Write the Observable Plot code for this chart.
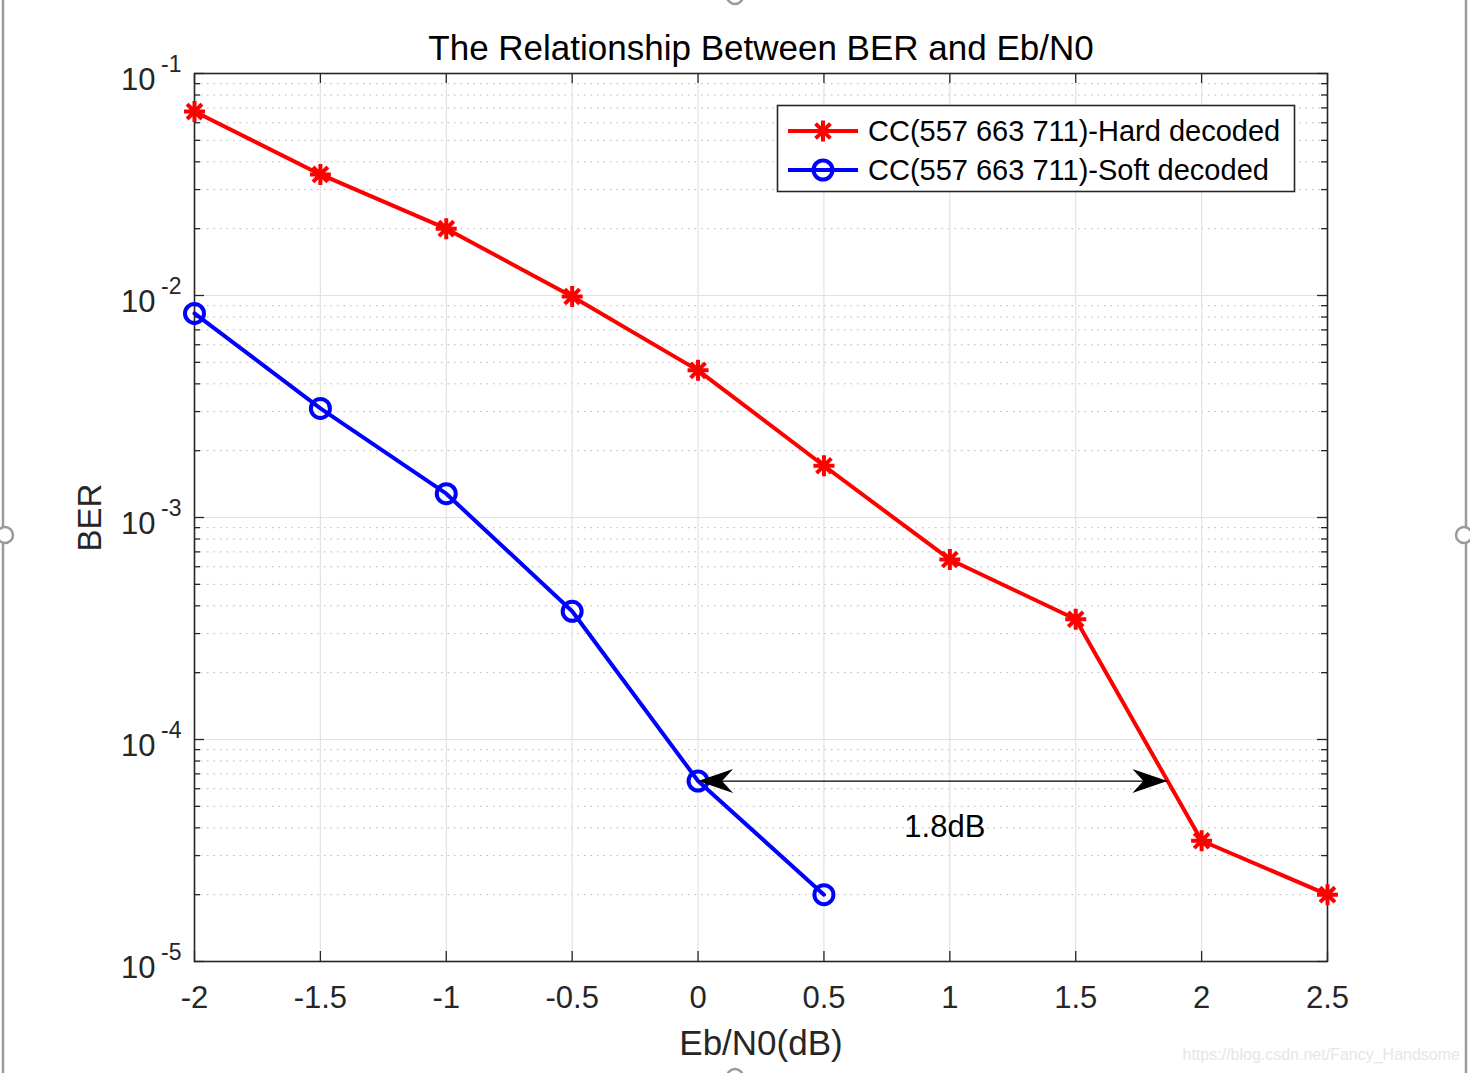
<!DOCTYPE html>
<html><head><meta charset="utf-8">
<script src="https://cdn.jsdelivr.net/npm/d3@7"></script>
<script src="https://cdn.jsdelivr.net/npm/@observablehq/plot@0.6"></script>
<style>body{margin:0;background:#fff;} svg{display:block}</style>
</head><body><div id="chart"></div>
<script>
// ---- data ----
const ebn0Hard = [-2, -1.5, -1, -0.5, 0, 0.5, 1, 1.5, 2, 2.5];
const berHard = [0.0674, 0.0351, 0.0200, 0.0099, 0.0046, 0.00171, 0.000647, 0.000348, 0.000035, 0.000020];
const ebn0Soft = [-2, -1.5, -1, -0.5, 0, 0.5];
const berSoft = [0.0083, 0.0031, 0.00128, 0.000378, 0.000065, 0.000020];
const seriesNames = ["CC(557 663 711)-Hard decoded", "CC(557 663 711)-Soft decoded"];
const xTicks = [-2, -1.5, -1, -0.5, 0, 0.5, 1, 1.5, 2, 2.5];
const yDecades = [1e-5, 1e-4, 1e-3, 1e-2, 1e-1];
const yExponents = ["-5", "-4", "-3", "-2", "-1"];
const yMinor = [1e-5, 1e-4, 1e-3, 1e-2].flatMap(d => [2,3,4,5,6,7,8,9].map(k => k * d));
const arrowX = [0, 1.864];
const arrowY = 6.5e-5;
const gapLabel = "1.8dB";
const gapLabelX = 0.98, gapLabelY = 4.05e-5;
const titleText = "The Relationship Between BER and Eb/N0";
const xLabel = "Eb/N0(dB)";
const yLabel = "BER";
const watermark = "https://blog.csdn.net/Fancy_Handsome";

const hard = ebn0Hard.map((x, i) => ({x, y: berHard[i]}));
const soft = ebn0Soft.map((x, i) => ({x, y: berSoft[i]}));
const arrowEnds = [{x: arrowX[0], y: arrowY, rot: 180}, {x: arrowX[1], y: arrowY, rot: 0}];

const FONT = "'Liberation Sans', Arial, sans-serif";
const AX = "#262626";
const W = 1470, H = 1073, ML = 194, MR = 143, MT = 73, MB = 112;
const PW = W - ML - MR, PH = H - MT - MB;

// custom symbols
const star8 = {draw(ctx, size) {
  const r = 10.5;
  ctx.moveTo(-r, 0); ctx.lineTo(r, 0);
  ctx.moveTo(0, -r); ctx.lineTo(0, r);
  const d = r * Math.SQRT1_2;
  ctx.moveTo(-d, -d); ctx.lineTo(d, d);
  ctx.moveTo(-d, d); ctx.lineTo(d, -d);
}};
const arrowHead = {draw(ctx, size) {
  ctx.moveTo(0, 0); ctx.lineTo(-35, -12); ctx.lineTo(-24, 0); ctx.lineTo(-35, 12); ctx.closePath();
}};

const plot = Plot.plot({
  width: W, height: H,
  marginLeft: ML, marginRight: MR, marginTop: MT, marginBottom: MB,
  style: {fontFamily: FONT, background: "white", color: "black"},
  x: {domain: [-2, 2.5], axis: null},
  y: {type: "log", domain: [1e-5, 1e-1], axis: null},
  marks: [
    // grids
    Plot.ruleY(yMinor, {y: d => d, stroke: "#b5b5b5", strokeWidth: 1, strokeDasharray: "1.5,5"}),
    Plot.ruleX(xTicks, {x: d => d, stroke: "#e2e2e2", strokeWidth: 1.2}),
    Plot.ruleY(yDecades, {y: d => d, stroke: "#e2e2e2", strokeWidth: 1.2}),
    // ticks (inward)
    Plot.tickX(xTicks, {x: d => d, insetTop: PH - 10, stroke: AX, strokeWidth: 1.3}),
    Plot.tickX(xTicks, {x: d => d, insetBottom: PH - 10, stroke: AX, strokeWidth: 1.3}),
    Plot.tickY(yDecades, {y: d => d, insetRight: PW - 10, stroke: AX, strokeWidth: 1.3}),
    Plot.tickY(yDecades, {y: d => d, insetLeft: PW - 10, stroke: AX, strokeWidth: 1.3}),
    Plot.tickY(yMinor, {y: d => d, insetRight: PW - 6, stroke: AX, strokeWidth: 1.3}),
    Plot.tickY(yMinor, {y: d => d, insetLeft: PW - 6, stroke: AX, strokeWidth: 1.3}),
    Plot.frame({stroke: AX, strokeWidth: 1.6}),
    // series
    Plot.line(hard, {x: "x", y: "y", stroke: "#ff0000", strokeWidth: 4}),
    Plot.dot(hard, {x: "x", y: "y", symbol: star8, r: 10, stroke: "#ff0000", strokeWidth: 4, fill: "none"}),
    Plot.line(soft, {x: "x", y: "y", stroke: "#0000ff", strokeWidth: 4}),
    Plot.dot(soft, {x: "x", y: "y", symbol: "circle", r: 9.5, stroke: "#0000ff", strokeWidth: 4, fill: "none"}),
    // annotation arrow
    Plot.line(arrowEnds, {x: "x", y: "y", stroke: "black", strokeWidth: 1.3}),
    Plot.dot(arrowEnds, {x: "x", y: "y", symbol: arrowHead, r: 10, rotate: "rot", fill: "black", stroke: "none"}),
    Plot.text([gapLabel], {x: gapLabelX, y: gapLabelY, text: d => d, fontSize: 31, fill: "black", lineAnchor: "middle"}),
    // tick labels
    Plot.text(xTicks, {x: d => d, text: d => String(d), frameAnchor: "bottom", dy: 37, lineAnchor: "middle", fontSize: 31, fill: "#262626"}),
    Plot.text(yDecades, {y: d => d, text: () => "10", frameAnchor: "left", dx: -39, dy: 7, textAnchor: "end", lineAnchor: "middle", fontSize: 31, fill: "#262626"}),
    Plot.text(yDecades, {y: d => d, text: (d, i) => yExponents[i], frameAnchor: "left", dx: -13, dy: -9, textAnchor: "end", lineAnchor: "middle", fontSize: 23, fill: "#262626"}),
    // title & labels
    Plot.text([titleText], {frameAnchor: "top", dy: -25, lineAnchor: "middle", textAnchor: "middle", fontSize: 35, fill: "black"}),
    Plot.text([xLabel], {frameAnchor: "bottom", dy: 82, lineAnchor: "middle", textAnchor: "middle", fontSize: 35, fill: "#262626"}),
    Plot.text([yLabel], {frameAnchor: "left", dx: -104, rotate: -90, lineAnchor: "middle", textAnchor: "middle", fontSize: 33, fill: "#262626"})
  ]
});
document.getElementById("chart").appendChild(plot);

// legend & decorations
const svg = d3.select(plot);
const lg = svg.append("g").attr("font-family", FONT).attr("text-anchor", "start");
lg.append("rect").attr("x", 777.5).attr("y", 105.5).attr("width", 517).attr("height", 86)
  .attr("fill", "white").attr("stroke", AX).attr("stroke-width", 1.6);
const rows = [
  {name: seriesNames[0], color: "#ff0000", sym: star8, y: 131},
  {name: seriesNames[1], color: "#0000ff", sym: null, y: 170}
];
rows.forEach(r => {
  lg.append("line").attr("x1", 788).attr("x2", 858).attr("y1", r.y).attr("y2", r.y)
    .attr("stroke", r.color).attr("stroke-width", 4);
  if (r.sym) {
    const p = d3.path(); r.sym.draw(p, 0);
    lg.append("path").attr("d", p.toString()).attr("transform", `translate(823,${r.y})`)
      .attr("stroke", r.color).attr("stroke-width", 4).attr("fill", "none");
  } else {
    lg.append("circle").attr("cx", 823).attr("cy", r.y).attr("r", 9.5)
      .attr("stroke", r.color).attr("stroke-width", 4).attr("fill", "none");
  }
  lg.append("text").attr("x", 868).attr("y", r.y).attr("dy", "0.35em").attr("text-anchor", "start")
    .attr("font-size", 29).attr("fill", "black").text(r.name);
});
// watermark
svg.append("text").attr("x", 1460).attr("y", 1060).attr("text-anchor", "end")
  .attr("font-family", FONT).attr("font-size", 16).attr("fill", "#e6e6e6").text(watermark);
// selection frame artifacts
const deco = svg.append("g").attr("stroke", "#9a9a9a").attr("stroke-width", 2.5).attr("fill", "white");
deco.append("line").attr("x1", 3).attr("x2", 3).attr("y1", 0).attr("y2", H);
deco.append("line").attr("x1", 1466).attr("x2", 1466).attr("y1", 0).attr("y2", H);
deco.append("circle").attr("cx", 5).attr("cy", 535).attr("r", 8);
deco.append("circle").attr("cx", 1464).attr("cy", 535).attr("r", 8);
deco.append("circle").attr("cx", 735).attr("cy", -4).attr("r", 8);
deco.append("circle").attr("cx", 735).attr("cy", 1077).attr("r", 8);
</script>
</body></html>
